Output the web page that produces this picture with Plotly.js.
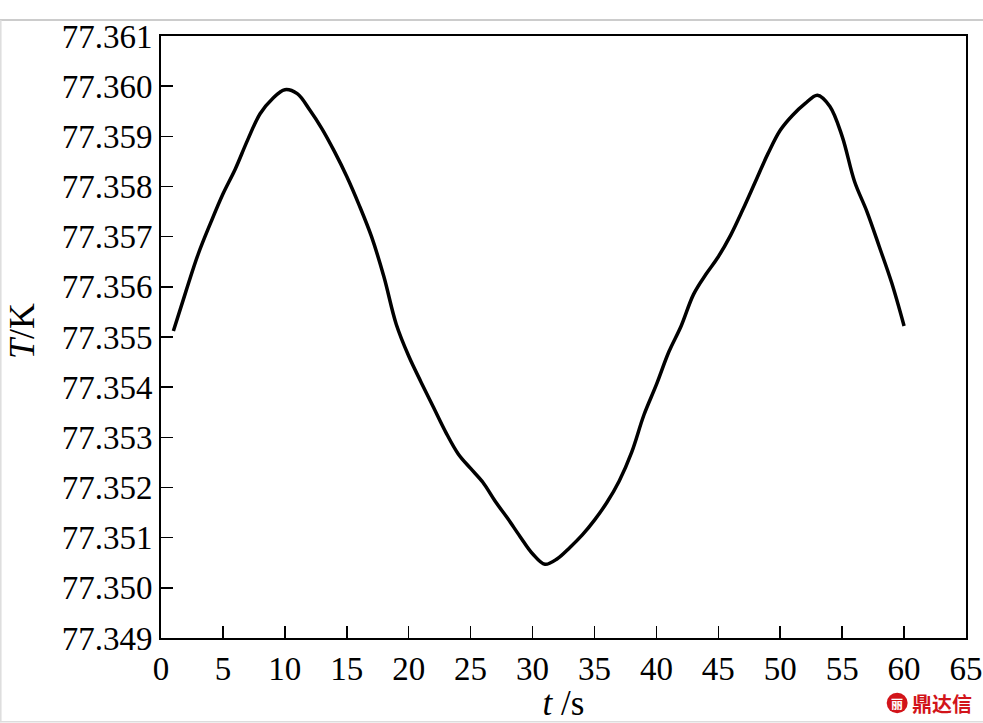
<!DOCTYPE html>
<html>
<head>
<meta charset="utf-8">
<script src="https://cdn.plot.ly/plotly-3.0.1.min.js"></script>
<style>html,body{margin:0;padding:0;background:#fff;}#chart{width:983px;height:723px;}</style>
</head>
<body>
<div id="chart"></div>
<script>
const timeS = [1,2,3,4,5,6,7,8,9,10,11,12,13,14,15,16,17,18,19,20,21,22,23,24,25,26,27,28,29,30,31,32,33,34,35,36,37,38,39,40,41,42,43,44,45,46,47,48,49,50,51,52,53,54,55,56,57,58,59,60];
const tempK = [77.35512,77.35590,77.35665,77.35727,77.35785,77.35835,77.35893,77.35945,77.35975,77.35993,
77.35985,77.35953,77.35915,77.35870,77.35820,77.35763,77.35700,77.35620,77.35525,77.35462,
77.35410,77.35360,77.35310,77.35267,77.35238,77.35210,77.35172,77.35138,77.35102,77.35068,
77.35047,77.35058,77.35080,77.35105,77.35135,77.35170,77.35213,77.35270,77.35345,77.35405,
77.35470,77.35522,77.35585,77.35625,77.35660,77.35703,77.35755,77.35810,77.35865,77.35912,
77.35942,77.35965,77.35982,77.35960,77.35900,77.35810,77.35750,77.35680,77.35608,77.35522];
const xTicks = [0,5,10,15,20,25,30,35,40,45,50,55,60,65];
const yTicks = [77.349,77.350,77.351,77.352,77.353,77.354,77.355,77.356,77.357,77.358,77.359,77.360,77.361];

const serif = '"Liberation Serif", "Times New Roman", serif';
const trace = {
  x: timeS, y: tempK, type: 'scatter', mode: 'lines',
  line: {color: '#000', width: 3.5, shape: 'spline', smoothing: 1},
  hoverinfo: 'skip'
};
const layout = {
  width: 983, height: 723,
  margin: {l: 161, r: 17, t: 36, b: 85},
  paper_bgcolor: '#fff', plot_bgcolor: '#fff',
  showlegend: false,
  font: {family: serif, color: '#000', size: 33},
  xaxis: {
    range: [0, 65], tickvals: xTicks, ticktext: xTicks.map(String),
    ticks: 'inside', ticklen: 12, tickwidth: 1.5, tickcolor: '#000',
    showline: true, linecolor: '#000', linewidth: 2, mirror: true,
    showgrid: false, zeroline: false,
    tickfont: {family: serif, size: 33, color: '#000'},
    title: {text: '<i>t</i> /s', font: {family: serif, size: 35, color: '#000'}, standoff: 12}
  },
  yaxis: {
    range: [77.349, 77.361], tickvals: yTicks, ticktext: yTicks.map(v => v.toFixed(3)),
    ticks: 'inside', ticklen: 12, tickwidth: 1.5, tickcolor: '#000',
    showline: true, linecolor: '#000', linewidth: 2, mirror: true,
    showgrid: false, zeroline: false,
    tickfont: {family: serif, size: 33, color: '#000'}
  },
  shapes: [
    {type: 'line', xref: 'paper', yref: 'paper', x0: -0.2, x1: 1.03, y0: 1.0266, y1: 1.0266, line: {color: '#bbb', width: 1.5}},
    {type: 'line', xref: 'paper', yref: 'paper', x0: -0.199, x1: -0.199, y0: -0.14, y1: 1.0266, line: {color: '#ddd', width: 1.5}},
    {type: 'line', xref: 'paper', yref: 'paper', x0: -0.2, x1: 1.03, y0: -0.139, y1: -0.139, line: {color: '#ddd', width: 1.5}},
    {type: 'circle', xref: 'paper', yref: 'paper', x0: 0.9015, x1: 0.9275, y0: -0.125, y1: -0.091, fillcolor: '#d2141a', line: {width: 0}}
  ],
  annotations: [
    {xref: 'paper', yref: 'paper', x: -0.1727, y: 0.51, text: '<i>T</i>/K', textangle: -90, showarrow: false, font: {family: serif, size: 36, color: '#000'}, xanchor: 'center', yanchor: 'middle'},
    {xref: 'paper', yref: 'paper', x: 0.9145, y: -0.108, text: '<b>丽</b>', showarrow: false, font: {family: 'Noto Sans CJK SC', size: 12, color: '#fff'}, xanchor: 'center', yanchor: 'middle'},
    {xref: 'paper', yref: 'paper', x: 0.9305, y: -0.108, text: '<b>鼎达信</b>', showarrow: false, font: {family: 'Noto Sans CJK SC', size: 20, color: '#d2141a'}, xanchor: 'left', yanchor: 'middle'}
  ]
};
Plotly.newPlot('chart', [trace], layout, {displayModeBar: false, staticPlot: true});
</script>
</body>
</html>
